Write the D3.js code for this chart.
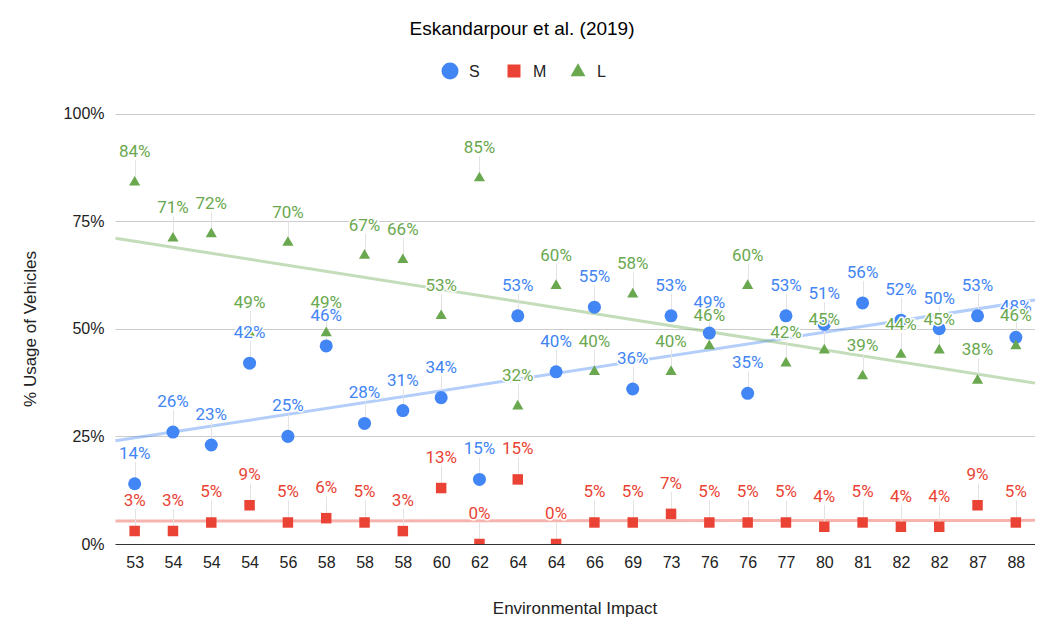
<!DOCTYPE html>
<html>
<head>
<meta charset="utf-8">
<script src="https://cdn.jsdelivr.net/npm/d3@7"></script>
<style>
  body { margin: 0; background: #fff; }
  svg { display: block; font-family: Arial, "Liberation Sans", sans-serif; }
</style>
</head>
<body>
<div id="chart-area"></div>
<script>
    // x categories (Environmental Impact) and the three series, in %
    var categories = ['53', '54', '54', '54', '56', '58', '58', '58', '60', '62', '64', '64',
                      '66', '69', '73', '76', '76', '77', '80', '81', '82', '82', '87', '88'];
    var sValues = [14, 26, 23, 42, 25, 46, 28, 31, 34, 15, 53, 40, 55, 36, 53, 49, 35, 53, 51, 56, 52, 50, 53, 48];
    var mValues = [3, 3, 5, 9, 5, 6, 5, 3, 13, 0, 15, 0, 5, 5, 7, 5, 5, 5, 4, 5, 4, 4, 9, 5];
    var lValues = [84, 71, 72, 49, 70, 49, 67, 66, 53, 85, 32, 60, 40, 58, 40, 46, 60, 42, 45, 39, 44, 45, 38, 46];
    var yTicks = [0, 25, 50, 75, 100];

    var width = 1045;
    var height = 619;
    var plot = { left: 115.5, right: 1035, top: 113.5, bottom: 544 };

    var series = [
      { name: 'S', values: sValues, color: '#4285f4', shape: 'circle' },
      { name: 'M', values: mValues, color: '#ea4335', shape: 'square' },
      { name: 'L', values: lValues, color: '#6aa84f', shape: 'triangle' }
    ];

    var svg = d3.select('#chart-area')
      .append('svg')
      .attr('width', width)
      .attr('height', height);

    var xScale = d3.scaleLinear()
      .domain([-0.5, categories.length - 0.5])
      .range([plot.left, plot.right]);

    var yScale = d3.scaleLinear()
      .domain([0, 100])
      .range([plot.bottom, plot.top]);

    function symbolFor(shape, big) {
      if (shape === 'circle') return d3.symbol(d3.symbolCircle, big ? 227 : 133)();
      if (shape === 'square') return d3.symbol(d3.symbolSquare, big ? 169 : 110)();
      return d3.symbol(d3.symbolTriangle, big ? 97 : 54)();
    }

    // least squares fit against the category index
    function trend(values) {
      var n = values.length;
      var mx = d3.mean(values, (d, i) => i);
      var my = d3.mean(values);
      var sxy = d3.sum(values, (d, i) => (i - mx) * (d - my));
      var sxx = d3.sum(values, (d, i) => (i - mx) * (i - mx));
      var slope = sxy / sxx;
      return (i) => my + slope * (i - mx);
    }

    svg.append('defs').append('clipPath').attr('id', 'plot-clip')
      .append('rect')
      .attr('x', plot.left).attr('y', plot.top - 20)
      .attr('width', plot.right - plot.left)
      .attr('height', plot.bottom - plot.top + 20);

    // title
    svg.append('text')
      .attr('x', 522)
      .attr('y', 35)
      .attr('text-anchor', 'middle')
      .attr('font-size', '19px')
      .attr('fill', '#000')
      .text('Eskandarpour et al. (2019)');

    // legend
    var legendItems = [
      { x: 450, tx: 469 },
      { x: 514, tx: 533 },
      { x: 578, tx: 597 }
    ];
    series.forEach((s, i) => {
      var row = svg.append('g');
      row.append('path')
        .attr('d', symbolFor(s.shape, true))
        .attr('transform', `translate(${legendItems[i].x}, ${s.shape === 'triangle' ? 72 : 71})`)
        .attr('fill', s.color);
      row.append('text')
        .attr('x', legendItems[i].tx)
        .attr('y', 77)
        .attr('font-size', '16px')
        .attr('fill', '#222')
        .text(s.name);
    });

    // gridlines
    svg.append('g')
      .selectAll('line')
      .data(yTicks.filter((d) => d > 0))
      .enter()
      .append('line')
      .attr('x1', plot.left)
      .attr('x2', plot.right)
      .attr('y1', (d) => Math.round(yScale(d)) + 0.5)
      .attr('y2', (d) => Math.round(yScale(d)) + 0.5)
      .attr('stroke', '#cccccc')
      .attr('stroke-width', 1);

    // y axis labels
    var yAxisCall = d3.axisLeft(yScale)
      .tickValues(yTicks)
      .tickSize(0)
      .tickPadding(11)
      .tickFormat((d) => d + '%');
    var yAxis = svg.append('g')
      .attr('transform', `translate(${plot.left}, 0)`)
      .call(yAxisCall);
    yAxis.select('.domain').remove();
    yAxis.selectAll('text').attr('font-size', '16px').attr('fill', '#222').attr('font-family', 'Arial, "Liberation Sans", sans-serif');

    // x axis labels
    var xAxisCall = d3.axisBottom(xScale)
      .tickValues(d3.range(categories.length))
      .tickSize(0)
      .tickPadding(13)
      .tickFormat((i) => categories[i]);
    var xAxis = svg.append('g')
      .attr('transform', `translate(0, ${plot.bottom})`)
      .call(xAxisCall);
    xAxis.select('.domain').remove();
    xAxis.selectAll('text').attr('font-size', '16px').attr('fill', '#222').attr('font-family', 'Arial, "Liberation Sans", sans-serif');

    // axis titles
    svg.append('text')
      .attr('x', 575)
      .attr('y', 614)
      .attr('text-anchor', 'middle')
      .attr('font-size', '17px')
      .attr('fill', '#222')
      .text('Environmental Impact');
    svg.append('text')
      .attr('transform', 'rotate(-90)')
      .attr('x', -329)
      .attr('y', 36)
      .attr('text-anchor', 'middle')
      .attr('font-size', '17px')
      .attr('fill', '#222')
      .text('% Usage of Vehicles');

    // trendlines
    var domain = xScale.domain();
    series.forEach((s) => {
      var f = trend(s.values);
      svg.append('line')
        .attr('x1', xScale(domain[0]))
        .attr('y1', yScale(f(domain[0])))
        .attr('x2', xScale(domain[1]))
        .attr('y2', yScale(f(domain[1])))
        .attr('stroke', s.color)
        .attr('stroke-opacity', 0.4)
        .attr('stroke-width', 3);
    });

    // baseline
    svg.append('line')
      .attr('x1', plot.left)
      .attr('x2', plot.right)
      .attr('y1', plot.bottom + 0.5)
      .attr('y2', plot.bottom + 0.5)
      .attr('stroke', '#333')
      .attr('stroke-width', 1);

    // label stems
    var stems = svg.append('g');
    series.forEach((s) => {
      stems.selectAll(null)
        .data(s.values)
        .enter()
        .append('line')
        .attr('x1', (d, i) => Math.round(xScale(i)) + 0.5)
        .attr('x2', (d, i) => Math.round(xScale(i)) + 0.5)
        .attr('y1', (d) => yScale(d) - 22)
        .attr('y2', (d) => yScale(d))
        .attr('stroke', '#e3e3e3')
        .attr('stroke-width', 1);
    });

    // markers
    var marks = svg.append('g').attr('clip-path', 'url(#plot-clip)');
    series.forEach((s) => {
      marks.selectAll(null)
        .data(s.values)
        .enter()
        .append('path')
        .attr('d', symbolFor(s.shape, false))
        .attr('transform', (d, i) => `translate(${xScale(i)}, ${yScale(d)})`)
        .attr('fill', s.color);
    });

    // data labels
    var labels = svg.append('g');
    series.forEach((s) => {
      labels.selectAll(null)
        .data(s.values)
        .enter()
        .append('text')
        .attr('x', (d, i) => xScale(i))
        .attr('y', (d) => yScale(d) - 25)
        .attr('text-anchor', 'middle')
        .attr('font-family', 'Roboto, Arial, sans-serif')
        .attr('font-size', '17px')
        .attr('fill', s.color)
        .attr('stroke', '#fff')
        .attr('stroke-width', 3)
        .attr('paint-order', 'stroke')
        .attr('stroke-linejoin', 'round')
        .text((d) => d + '%');
    });
</script>
</body>
</html>
